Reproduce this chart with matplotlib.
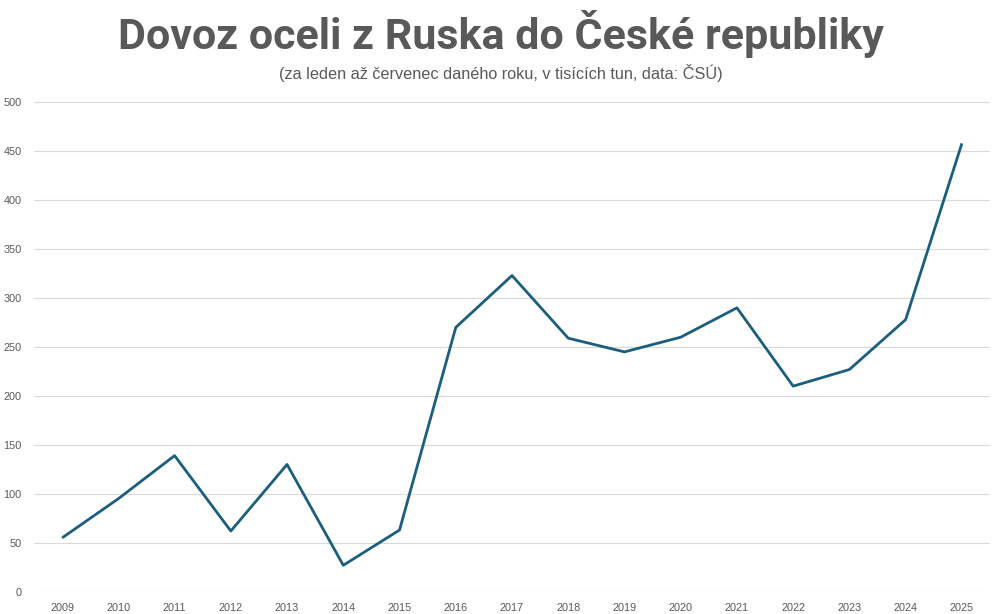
import numpy as np
import matplotlib
matplotlib.use("Agg")
import matplotlib.pyplot as plt

years = ["2009", "2010", "2011", "2012", "2013", "2014", "2015", "2016", "2017",
         "2018", "2019", "2020", "2021", "2022", "2023", "2024", "2025"]
imports = [55, 95, 139, 62, 130, 27, 63, 270, 323,
           259, 245, 260, 290, 210, 227, 278, 458]
yticks = [0, 50, 100, 150, 200, 250, 300, 350, 400, 450, 500]

title = "Dovoz oceli z Ruska do České republiky"
subtitle = "(za leden až červenec daného roku, v tisících tun, data: ČSÚ)"

line_color = "#1b5e7e"
text_color = "#595959"
grid_color = "#d9d9d9"

fig = plt.figure(figsize=(10.01, 6.14), dpi=100)
ax = fig.add_axes([34 / 1001, 1 - 591.7 / 614, 956 / 1001, 489.4 / 614])

x = np.arange(len(years))
ax.plot(x, imports, color=line_color, lw=2.0, solid_joinstyle="round", solid_capstyle="butt")

ax.set_xlim(-0.5, len(years) - 0.5)
ax.set_ylim(0, 500)
ax.set_xticks(x)
ax.set_xticklabels(years)
ax.set_yticks(yticks)
ax.grid(axis="y", color=grid_color, lw=0.8)
ax.set_axisbelow(True)
for s in ax.spines.values():
    s.set_visible(False)
ax.tick_params(length=0, labelsize=7.8, labelcolor=text_color)
for lab in ax.get_xticklabels() + ax.get_yticklabels():
    lab.set_family("Liberation Sans")
ax.tick_params(axis="x", pad=8)
ax.tick_params(axis="y", pad=9)

fig.text(0.5, 1 - 49 / 614, title, ha="center", va="baseline", fontsize=31,
         fontweight="bold", color=text_color, family="Roboto")
fig.text(0.5, 1 - 79 / 614, subtitle, ha="center", va="baseline", fontsize=11.7,
         color=text_color, family="Liberation Sans")

fig.savefig("out.png", dpi=100)
